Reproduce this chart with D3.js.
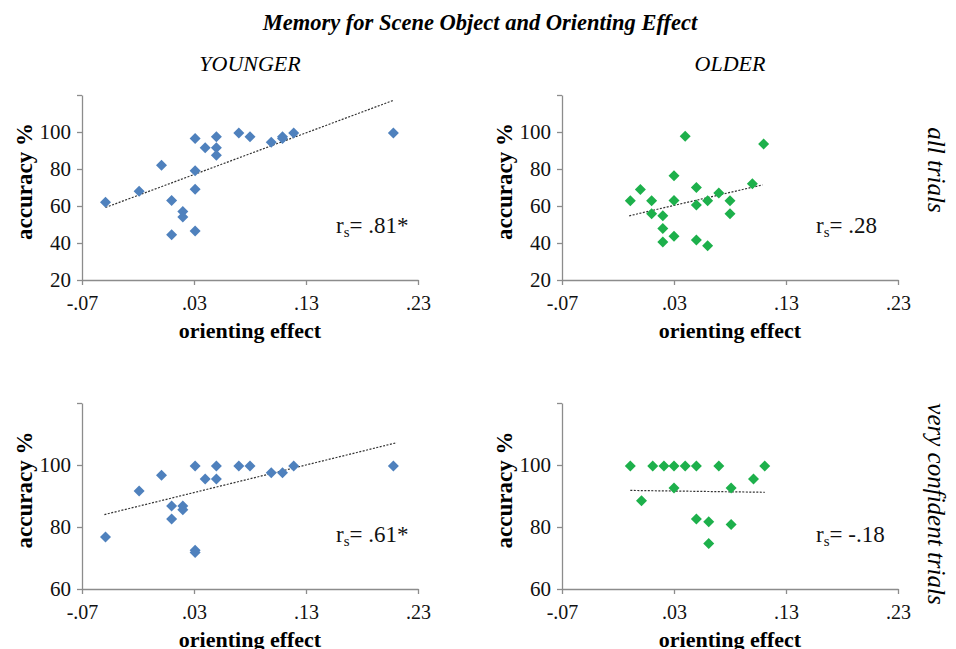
<!DOCTYPE html>
<html>
<head>
<meta charset="utf-8">
<script src="https://cdn.jsdelivr.net/npm/d3@7"></script>
<style>
  html, body { margin: 0; padding: 0; background: #fff; }
  svg text { font-family: 'Liberation Serif', 'Times New Roman', Times, serif; }
</style>
</head>
<body>
<svg id="chart" width="956" height="649"></svg>
<script>
// ---------- data ----------
const chartTitle = "Memory for Scene Object and Orienting Effect";
const groupLabels = ["YOUNGER", "OLDER"];
const rowLabels = ["all trials", "very confident trials"];
const xTickValues = [-0.07, 0.03, 0.13, 0.23];
const xTickLabels = ["-.07", ".03", ".13", ".23"];
const yTicksAll = [20, 40, 60, 80, 100];
const yTicksConf = [60, 80, 100];

const youngAllX = [-0.049, -0.019, 0.001, 0.010, 0.010, 0.020, 0.020, 0.031, 0.031, 0.031, 0.031, 0.040, 0.050, 0.050, 0.050, 0.070, 0.080, 0.099, 0.109, 0.109, 0.119, 0.208];
const youngAllY = [62, 68, 82, 63, 44.5, 57, 54, 96.5, 79, 69, 46.5, 91.5, 97.5, 91.5, 87.5, 99.5, 97.5, 94.5, 97.5, 96.5, 99.5, 99.5];
const youngAllTrend = [[-0.049, 59.2], [0.208, 117.1]];
const youngAllR = ".81*";

const olderAllX = [-0.009, 0.000, 0.010, 0.010, 0.020, 0.020, 0.020, 0.030, 0.030, 0.030, 0.040, 0.050, 0.050, 0.050, 0.060, 0.060, 0.070, 0.080, 0.080, 0.100, 0.110];
const olderAllY = [62.8, 68.9, 62.8, 55.8, 54.7, 47.9, 40.5, 76.4, 63, 43.7, 97.7, 70, 60.6, 41.6, 62.8, 38.5, 67, 62.8, 55.8, 72, 93.5];
const olderAllTrend = [[-0.010, 54.7], [0.109, 71.4]];
const olderAllR = ".28";

const youngConfX = [-0.049, -0.019, 0.001, 0.010, 0.010, 0.020, 0.020, 0.031, 0.031, 0.031, 0.040, 0.050, 0.050, 0.070, 0.080, 0.099, 0.109, 0.119, 0.208];
const youngConfY = [76.8, 91.6, 96.7, 86.8, 82.6, 86.8, 85.6, 99.7, 72.5, 71.8, 95.5, 99.7, 95.5, 99.7, 99.7, 97.5, 97.5, 99.7, 99.7];
const youngConfTrend = [[-0.050, 84], [0.211, 107.2]];
const youngConfR = ".61*";

const olderConfX = [-0.009, 0.001, 0.011, 0.021, 0.030, 0.030, 0.040, 0.050, 0.050, 0.061, 0.061, 0.070, 0.081, 0.081, 0.101, 0.111];
const olderConfY = [99.7, 88.5, 99.7, 99.7, 99.7, 92.6, 99.7, 99.7, 82.6, 81.7, 74.7, 99.7, 92.6, 80.8, 95.5, 99.7];
const olderConfTrend = [[-0.009, 91.8], [0.111, 91.2]];
const olderConfR = "-.18";

// ---------- layout ----------
const FONT = "'Liberation Serif', 'Times New Roman', Times, serif";
const svg = d3.select("#chart");
const colors = { young: "#4F81BD", older: "#1DB04B" };

const panels = [
  { xs: youngAllX, ys: youngAllY, trend: youngAllTrend, r: youngAllR, color: colors.young,
    left: 82, right: 418, top: 95, bottom: 280, yDomain: [20, 120], yTicks: yTicksAll },
  { xs: olderAllX, ys: olderAllY, trend: olderAllTrend, r: olderAllR, color: colors.older,
    left: 562, right: 898, top: 95, bottom: 280, yDomain: [20, 120], yTicks: yTicksAll },
  { xs: youngConfX, ys: youngConfY, trend: youngConfTrend, r: youngConfR, color: colors.young,
    left: 82, right: 418, top: 403, bottom: 589, yDomain: [60, 120], yTicks: yTicksConf },
  { xs: olderConfX, ys: olderConfY, trend: olderConfTrend, r: olderConfR, color: colors.older,
    left: 562, right: 898, top: 403, bottom: 589, yDomain: [60, 120], yTicks: yTicksConf }
];

// title
svg.append("text")
  .attr("x", 480).attr("y", 30)
  .attr("text-anchor", "middle").attr("font-family", FONT)
  .style("font-size", "22.5px").style("font-weight", "bold").style("font-style", "italic")
  .text(chartTitle);

// group labels
[250, 730].forEach((cx, i) => {
  svg.append("text")
    .attr("x", cx).attr("y", 71)
    .attr("text-anchor", "middle").attr("font-family", FONT)
    .style("font-size", "22px").style("font-style", "italic")
    .text(groupLabels[i]);
});

// row labels (rotated clockwise)
[[937, 170], [937, 504]].forEach(([cx, cy], i) => {
  svg.append("text")
    .attr("transform", `translate(${cx},${cy}) rotate(90)`)
    .attr("text-anchor", "middle").attr("font-family", FONT)
    .attr("dy", "0.35em")
    .style("font-size", "25px").style("font-style", "italic")
    .text(rowLabels[i]);
});

const axisColor = "#8c8c8c";

panels.forEach(p => {
  const x = d3.scaleLinear().domain([-0.07, 0.23]).range([p.left, p.right]);
  const y = d3.scaleLinear().domain(p.yDomain).range([p.bottom, p.top]);

  // x axis
  const gx = svg.append("g").attr("transform", `translate(0,${p.bottom})`)
    .call(d3.axisBottom(x).tickValues(xTickValues)
      .tickFormat((d, i) => xTickLabels[i]).tickSizeInner(5).tickSizeOuter(0).tickPadding(11));
  gx.attr("font-family", FONT);
  gx.select(".domain").attr("stroke", axisColor).attr("stroke-width", 1.3);
  gx.selectAll(".tick line").attr("stroke", axisColor).attr("stroke-width", 1.3);
  gx.selectAll(".tick text").attr("fill", "#111").attr("font-family", FONT)
    .style("font-size", "20px");

  // y axis
  const gy = svg.append("g").attr("transform", `translate(${p.left},0)`)
    .call(d3.axisLeft(y).tickValues(p.yTicks.concat([120])).tickFormat(d => d === 120 ? "" : d)
      .tickSizeInner(5).tickSizeOuter(0).tickPadding(6));
  gy.attr("font-family", FONT);
  gy.select(".domain").attr("stroke", axisColor).attr("stroke-width", 1.3);
  gy.selectAll(".tick line").attr("stroke", axisColor).attr("stroke-width", 1.3);
  gy.selectAll(".tick text").attr("fill", "#111").attr("font-family", FONT)
    .style("font-size", "21px");

  // axis titles
  svg.append("text")
    .attr("x", (p.left + p.right) / 2).attr("y", p.bottom + 58)
    .attr("text-anchor", "middle").attr("font-family", FONT)
    .style("font-size", "22px").style("font-weight", "bold")
    .text("orienting effect");
  svg.append("text")
    .attr("transform", `translate(${p.left - 58},${(p.top + p.bottom) / 2 - 6}) rotate(-90)`)
    .attr("text-anchor", "middle").attr("font-family", FONT)
    .attr("dy", "0.35em")
    .style("font-size", "23px").style("font-weight", "bold")
    .text("accuracy %");

  // trend line
  svg.append("line")
    .attr("x1", x(p.trend[0][0])).attr("y1", y(p.trend[0][1]))
    .attr("x2", x(p.trend[1][0])).attr("y2", y(p.trend[1][1]))
    .attr("stroke", "#333").attr("stroke-width", 1.2)
    .attr("stroke-dasharray", "2,1.5");

  // points
  const pts = p.xs.map((v, i) => [v, p.ys[i]]);
  svg.append("g").selectAll("path").data(pts).join("path")
    .attr("transform", d => `translate(${x(d[0])},${y(d[1])})`)
    .attr("d", "M0,-5.5L5.5,0L0,5.5L-5.5,0Z")
    .attr("fill", p.color);

  // correlation label
  const t = svg.append("text")
    .attr("x", p.left + 254).attr("y", p.top + (p.bottom - p.top) * 0.745)
    .attr("font-family", FONT)
    .style("font-size", "23px").attr("fill", "#111");
  t.append("tspan").text("r");
  t.append("tspan").attr("dy", 4).style("font-size", "15px").text("s");
  t.append("tspan").attr("dy", -4).text("= " + p.r);
});
</script>
</body>
</html>
